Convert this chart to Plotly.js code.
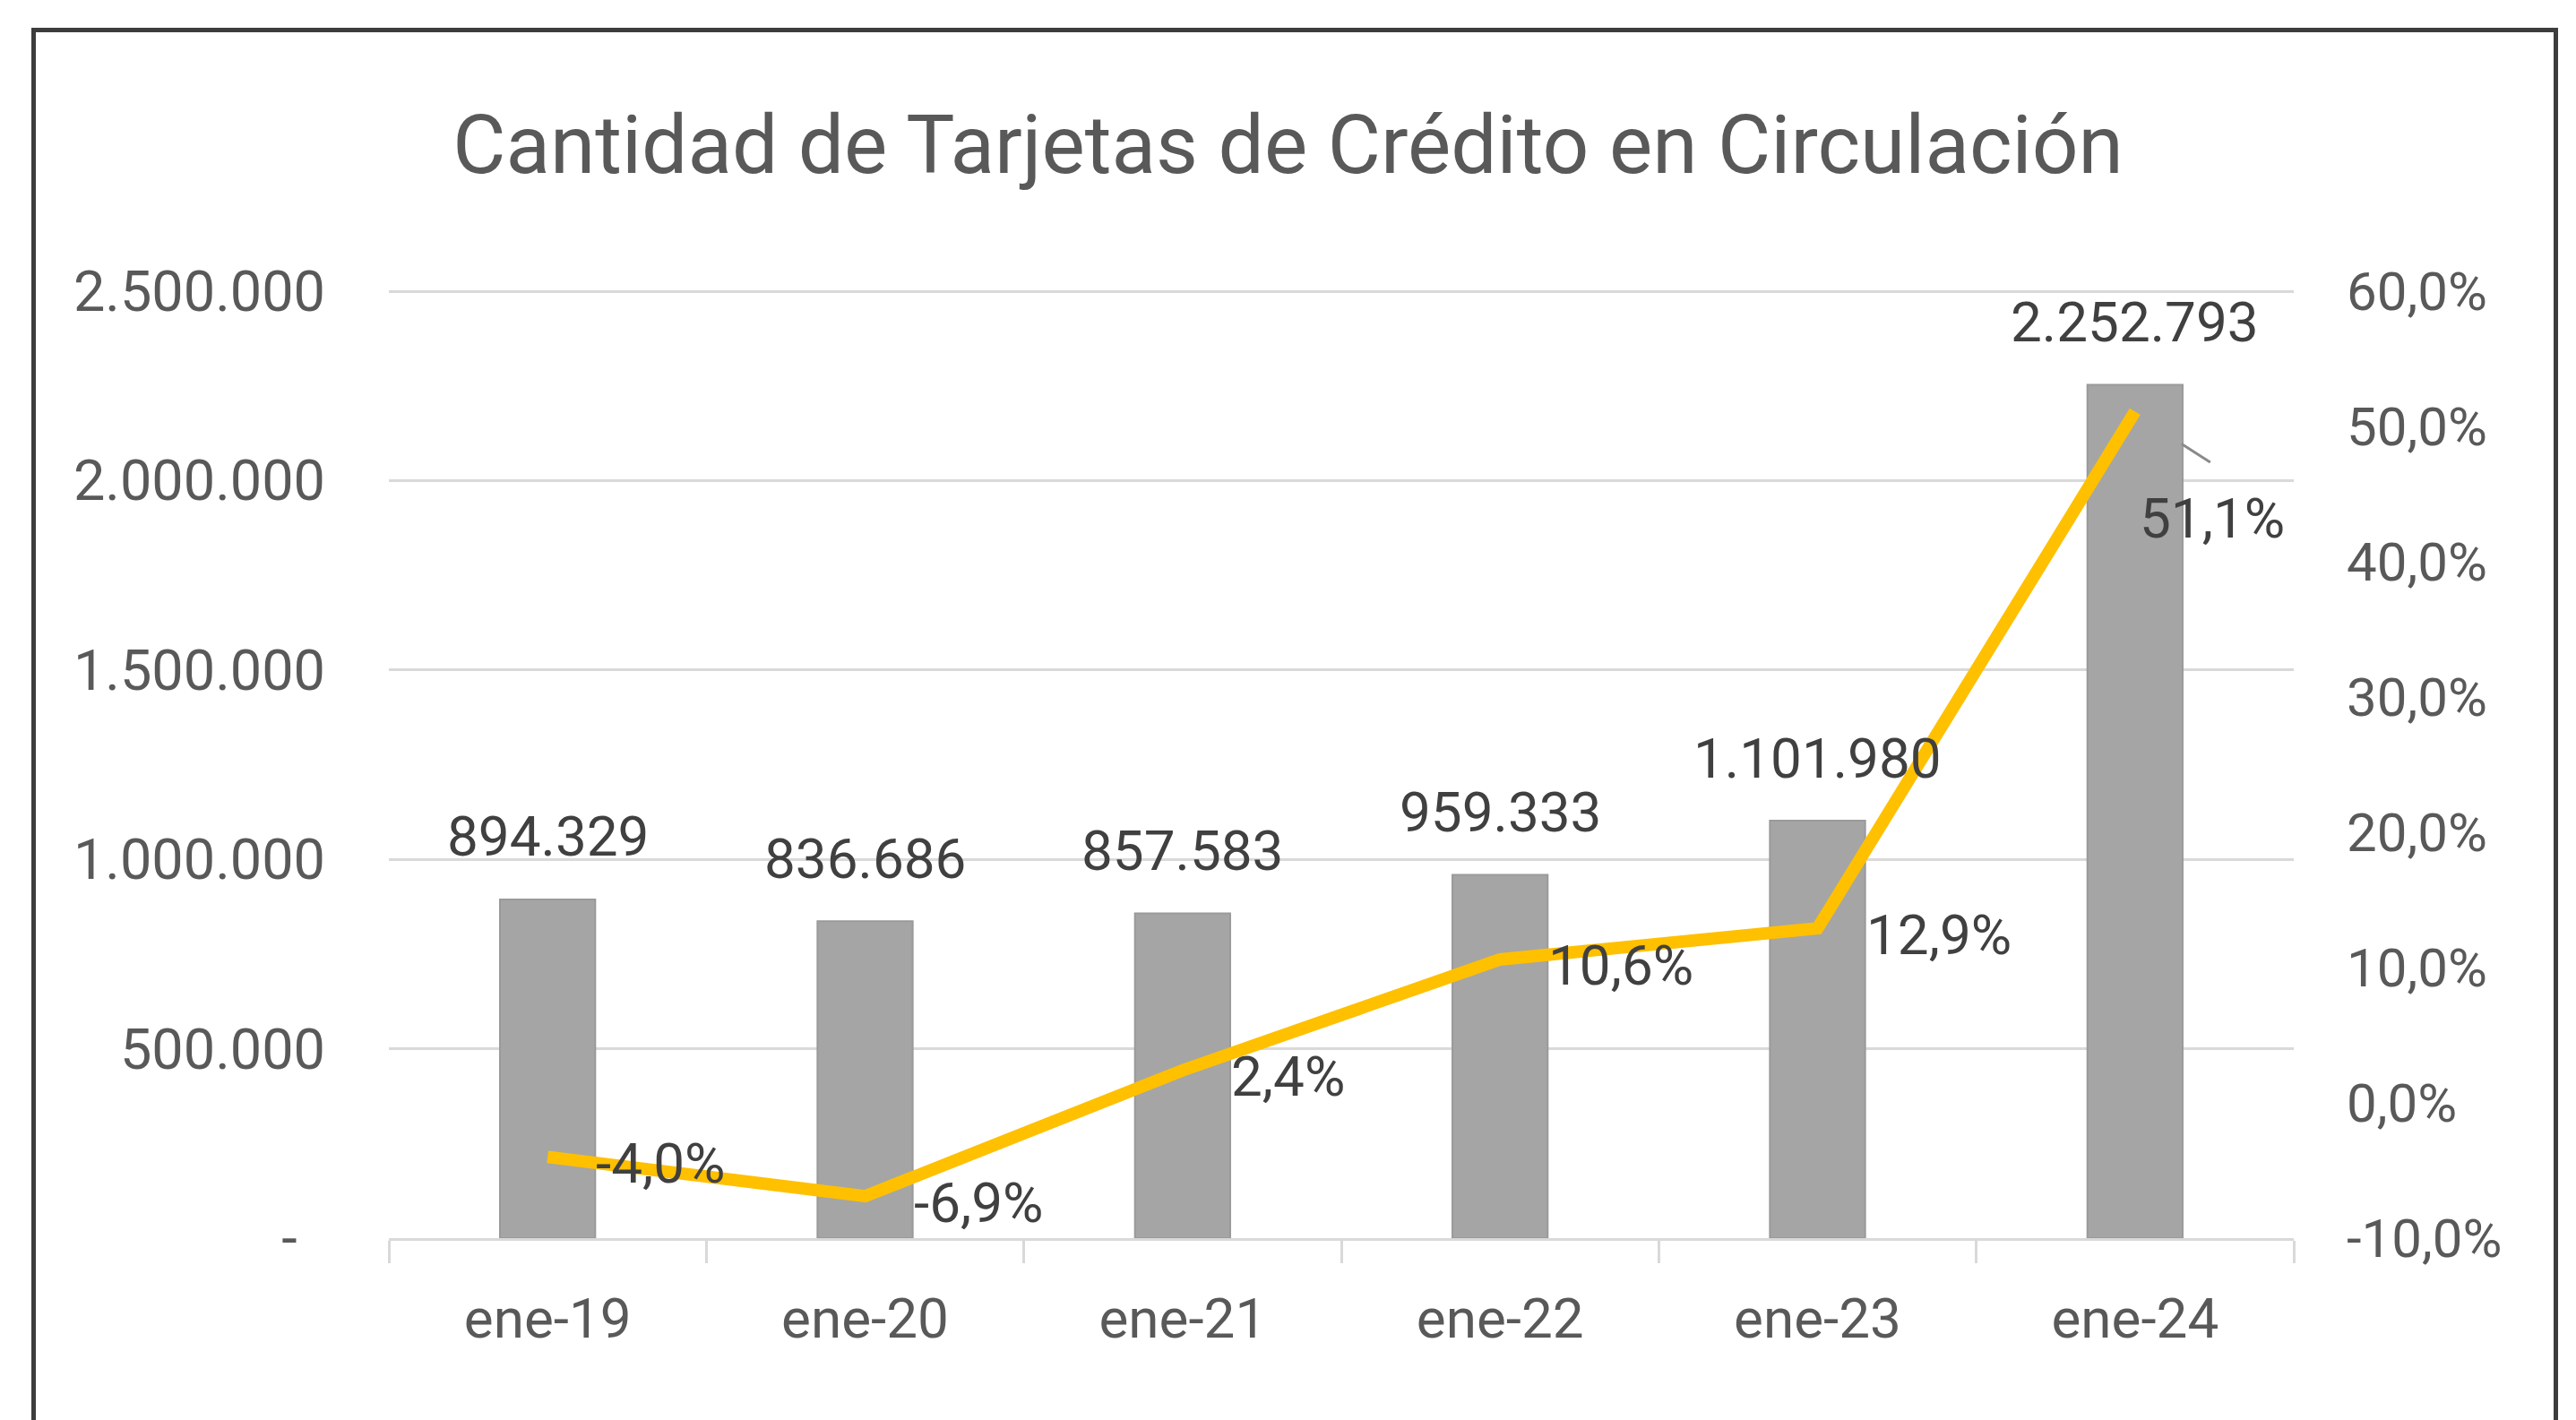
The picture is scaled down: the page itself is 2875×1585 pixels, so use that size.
<!DOCTYPE html>
<html>
<head>
<meta charset="utf-8">
<script src="https://cdn.plot.ly/plotly-3.0.1.min.js"></script>
<style>
html,body{margin:0;padding:0;background:#fff;}
#chart{width:2875px;height:1585px;}
</style>
</head>
<body>
<div id="chart"></div>
<script>
// ---- Data ----
const categories = ["ene-19", "ene-20", "ene-21", "ene-22", "ene-23", "ene-24"];
const cardCounts = [894329, 836686, 857583, 959333, 1101980, 2252793];
const growthPct = [-4.0, -6.9, 2.4, 10.6, 12.9, 51.1];

const leftTickVals = [0, 500000, 1000000, 1500000, 2000000, 2500000];
const leftTickText = ["-\u00a0\u00a0", "500.000", "1.000.000", "1.500.000", "2.000.000", "2.500.000"];
const rightTickVals = [-10, 0, 10, 20, 30, 40, 50, 60];
const rightTickText = ["-10,0%", "0,0%", "10,0%", "20,0%", "30,0%", "40,0%", "50,0%", "60,0%"];

// ---- Helpers ----
function fmtThousands(n) { return String(n).replace(/\B(?=(\d{3})+(?!\d))/g, "."); }
function fmtPct(v) { return v.toFixed(1).replace(".", ",") + "%"; }

const FONT = "Roboto, 'Open Sans', sans-serif";
const TICK_COLOR = "#595959";
const LABEL_COLOR = "#404040";
const GRID = "#d9d9d9";

// plot area geometry (pixels)
const PLOT_TOP = 322, PLOT_BOTTOM = 1382, PLOT_LEFT = 434, PLOT_RIGHT = 2560;
const PLOT_H = PLOT_BOTTOM - PLOT_TOP;
const SPAN_H = 1057; // pixels between the bottom and the top gridline
const yTop = 2500000 * PLOT_H / SPAN_H;
const y2Top = -10 + 70 * PLOT_H / SPAN_H;

const barTrace = {
  type: "bar",
  x: categories,
  y: cardCounts,
  yaxis: "y",
  marker: { color: "#a5a5a5", line: { color: "#9a9a9a", width: 2 } },
  hoverinfo: "skip",
  showlegend: false
};

const lineTrace = {
  type: "scatter",
  mode: "lines",
  x: categories,
  y: growthPct,
  yaxis: "y2",
  line: { color: "#ffc000", width: 14 },
  hoverinfo: "skip",
  showlegend: false
};

const annotations = [];
categories.forEach((c, i) => {
  annotations.push({
    x: c, y: cardCounts[i], xref: "x", yref: "y",
    text: fmtThousands(cardCounts[i]),
    showarrow: false, xanchor: "center", yanchor: "middle", yshift: 70,
    font: { family: FONT, size: 62, color: LABEL_COLOR }
  });
});
growthPct.forEach((v, i) => {
  const last = i === growthPct.length - 1;
  if (!last) {
    annotations.push({
      x: categories[i], y: v, xref: "x", yref: "y2",
      text: fmtPct(v),
      showarrow: false, xanchor: "left", yanchor: "middle", xshift: 52, yshift: -7,
      font: { family: FONT, size: 62, color: LABEL_COLOR }
    });
  } else {
    // label moved below-right of the point, with a short leader line
    annotations.push({
      x: categories[i], y: v, xref: "x", yref: "y2",
      text: fmtPct(v),
      showarrow: false, xanchor: "center", yanchor: "middle", xshift: 86, yshift: -119,
      font: { family: FONT, size: 62, color: LABEL_COLOR }
    });
    annotations.push({
      x: categories[i], y: v, xref: "x", yref: "y2",
      text: " ",
      showarrow: true, arrowhead: 0, arrowwidth: 3, arrowcolor: "#8a8a8a",
      ax: 34, ay: 22, standoff: 0, startstandoff: 0,
      xshift: 52, yshift: -36,
      font: { family: FONT, size: 2, color: LABEL_COLOR }
    });
  }
});

const layout = {
  width: 2875,
  height: 1585,
  paper_bgcolor: "#ffffff",
  plot_bgcolor: "#ffffff",
  font: { family: FONT, color: TICK_COLOR },
  margin: { l: PLOT_LEFT, r: 2875 - PLOT_RIGHT, t: PLOT_TOP, b: 1585 - PLOT_BOTTOM, pad: 0 },
  title: {
    text: "Cantidad de Tarjetas de Crédito en Circulación",
    xref: "container", x: 0.5, xanchor: "center",
    yref: "container", y: 1 - 161 / 1585, yanchor: "middle",
    font: { family: FONT, size: 91, color: "#595959" }
  },
  bargap: 0.7,
  xaxis: {
    type: "category",
    showgrid: false,
    showline: true, linecolor: GRID, linewidth: 3,
    ticks: "outside", tickson: "boundaries", ticklen: 25, tickwidth: 3, tickcolor: GRID,
    ticklabelstandoff: 34,
    tickfont: { family: FONT, size: 62, color: TICK_COLOR },
    fixedrange: true
  },
  yaxis: {
    range: [0, yTop],
    tickvals: leftTickVals,
    ticktext: leftTickText,
    showgrid: true, gridcolor: GRID, gridwidth: 3,
    zeroline: false, showline: false,
    ticks: "",
    ticklabelstandoff: 70,
    tickfont: { family: FONT, size: 63, color: TICK_COLOR },
    fixedrange: true
  },
  yaxis2: {
    overlaying: "y",
    side: "right",
    range: [-10, y2Top],
    tickvals: rightTickVals,
    ticktext: rightTickText,
    showgrid: false, zeroline: false, showline: false,
    ticks: "",
    ticklabelstandoff: 58,
    tickfont: { family: FONT, size: 60, color: TICK_COLOR },
    fixedrange: true
  },
  annotations: annotations,
  shapes: [{
    type: "rect", xref: "paper", yref: "paper",
    x0: (37.5 - PLOT_LEFT) / (PLOT_RIGHT - PLOT_LEFT), x1: (2852.5 - PLOT_LEFT) / (PLOT_RIGHT - PLOT_LEFT),
    y0: -0.35, y1: (PLOT_BOTTOM - 33.5) / PLOT_H,
    line: { color: "#3d3d3d", width: 5 },
    fillcolor: "rgba(0,0,0,0)"
  }]
};

Plotly.newPlot("chart", [barTrace, lineTrace], layout, { staticPlot: true, displayModeBar: false });
</script>
</body>
</html>
